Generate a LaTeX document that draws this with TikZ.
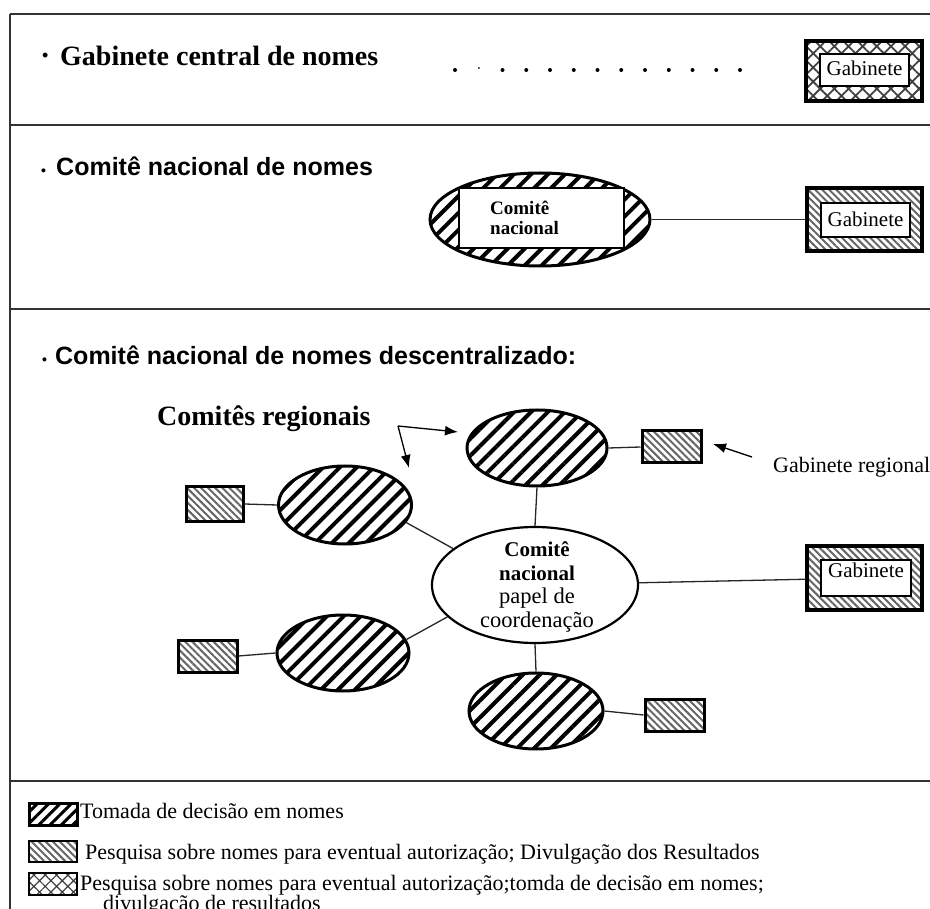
\documentclass[tikz,border=0pt]{standalone}
\usepackage{fontspec}
\setmainfont{Liberation Serif}
\newfontfamily\arialf{Liberation Sans}
\usetikzlibrary{shapes.geometric,patterns.meta,arrows.meta}
\newcommand\fsz[1]{\fontsize{#1}{#1}\selectfont}
\begin{document}
\begin{tikzpicture}[x=1pt,y=-1pt,
  frameline/.style={line width=1.4pt,draw=black!80},
  conn/.style={line width=1.3pt,draw=black!85},
  arr/.style={line width=1.3pt,draw=black,-{Latex[length=13pt,width=10pt]}},
  slantell/.style={ellipse,draw,line width=3pt,inner sep=0pt,
    pattern={Lines[angle=45,distance=12pt,line width=4pt]},pattern color=black},
  grayboxs/.style={rectangle,draw,line width=3pt,inner sep=0pt,
    pattern={Lines[angle=-45,distance=5pt,line width=2pt]},pattern color=black!60},
  crossbox/.style={rectangle,draw,line width=3.5pt,inner sep=0pt,
    pattern={Hatch[angle=45,distance=10pt,line width=1.8pt]},pattern color=black!75},
  innerbox/.style={rectangle,draw,line width=1.2pt,fill=white,inner sep=0pt},
  body/.style={font=\fsz{22},inner sep=0pt,anchor=base west},
  boxtxt/.style={font=\fsz{21},inner sep=0pt,anchor=base},
  serifhead/.style={font=\fsz{28}\bfseries,inner sep=0pt,anchor=base west},
  sanshead/.style={font=\arialf\fsz{25}\bfseries,inner sep=0pt,anchor=base west},
  dotmark/.style={fill=black}
]
\useasboundingbox (0,0) rectangle (930,909);
\fill[white] (0,0) rectangle (930,909);

% frame
\draw[frameline] (10,14) -- (930,14);
\draw[frameline] (10,14) -- (10,909);
\draw[frameline] (10,125) -- (930,125);
\draw[frameline] (10,309) -- (930,309);
\draw[frameline] (10,781) -- (930,781);

% ---------- section 1
\node[serifhead] (b1) at (42,62) {\fsz{18}\textbullet};
\node[serifhead] (h1) at (60,66) {Gabinete central de nomes};
\foreach \i in {0,...,12}{
  \ifnum\i=1
    \fill[dotmark] ({455+\i*23.75},68) circle (1.0);
  \else
    \fill[dotmark] ({455+\i*23.75},70) circle (2.0);
  \fi
}
\node[crossbox,minimum width=116,minimum height=60] (g1) at (864,71) {};
\node[innerbox,minimum width=89,minimum height=32] (g1i) at (864.5,70) {};
\node[boxtxt] (g1t) at (864.5,76) {Gabinete};

% ---------- section 2
\node[sanshead] (b2) at (41,176) {\fsz{14}\textbullet};
\node[sanshead] (h2) at (56,176) {Comitê nacional de nomes};
\node[slantell,minimum width=220,minimum height=93] (e2) at (540,219.5) {};
\node[innerbox,minimum width=165,minimum height=60] (e2i) at (541.5,218) {};
\node[font=\fsz{19}\bfseries,inner sep=0pt,anchor=base west] (e2t1) at (490,215) {Comitê};
\node[font=\fsz{19}\bfseries,inner sep=0pt,anchor=base west] (e2t2) at (490,235) {nacional};
\node[grayboxs,line width=3.5pt,minimum width=115,minimum height=63] (g2) at (864.5,219.5) {};
\node[innerbox,minimum width=89,minimum height=34] (g2i) at (865.5,220) {};
\node[boxtxt] (g2t) at (865.5,227) {Gabinete};
\draw[conn] (e2.east) -- (g2.west);

% ---------- section 3
\node[sanshead] (b3) at (42,365) {\fsz{14}\textbullet};
\node[sanshead] (h3) at (55,365) {Comitê nacional de nomes descentralizado:};
\node[serifhead] (cr) at (157,426) {Comitês regionais};

\coordinate (vtx) at (398,426);
\coordinate (tipA) at (458,432);
\coordinate (tipB) at (409,468);
\draw[arr] (vtx) -- (tipA);
\draw[arr] (vtx) -- (tipB);

\node[slantell,minimum width=140,minimum height=76] (rT) at (537,448) {};
\node[slantell,minimum width=133,minimum height=78] (rUL) at (345,505) {};
\node[slantell,minimum width=132,minimum height=76] (rLL) at (343,653) {};
\node[slantell,minimum width=134,minimum height=76] (rB) at (536,711) {};
\node[ellipse,draw,line width=2.2pt,fill=white,inner sep=0pt,minimum width=206,minimum height=116] (ctr) at (535,585) {};
\node[align=center,inner sep=0pt,font=\fontsize{22.5}{23.5}\selectfont] (ctrt) at (537,587)
  {{\fsz{21}\bfseries Comitê}\\{\fsz{21}\bfseries nacional}\\papel\hspace{6pt}de\\coordenação};

\node[grayboxs,minimum width=59,minimum height=32] (bT) at (671.5,447) {};
\node[grayboxs,minimum width=57,minimum height=34] (bUL) at (214.5,504) {};
\node[grayboxs,minimum width=59,minimum height=32] (bLL) at (207.5,656) {};
\node[grayboxs,minimum width=59,minimum height=32] (bB) at (674.5,715) {};

\node[grayboxs,line width=3.5pt,minimum width=115,minimum height=64] (g3) at (864.5,578) {};
\node[innerbox,minimum width=90,minimum height=36] (g3i) at (866,578) {};
\node[boxtxt] (g3t) at (866,577) {Gabinete};

\node[body] (gr) at (773,473) {Gabinete regional};
\coordinate (grA) at (752,457);
\coordinate (grTip) at (713,444);
\draw[arr] (grA) -- (grTip);

\draw[conn] (rT.east) -- (bT.west);
\draw[conn] (rT.south) -- (ctr.north);
\draw[conn] (ctr) -- (g3);
\draw[conn] (bUL.east) -- (rUL.west);
\draw[conn] (bLL.east) -- (rLL.west);
\draw[conn] (rUL.-16) -- (ctr.156);
\draw[conn] (rLL.12) -- (ctr.200);
\draw[conn] (rB.north) -- (ctr.south);
\draw[conn] (rB.east) -- (bB.west);

% ---------- legend
\node[rectangle,draw,line width=3pt,inner sep=0pt,minimum width=48,minimum height=22,
  pattern={Lines[angle=45,distance=8pt,line width=3pt]},pattern color=black] (lb1) at (53,814) {};
\node[grayboxs,line width=2pt,minimum width=48,minimum height=21] (lb2) at (53,851.5) {};
\node[crossbox,line width=2pt,minimum width=48,minimum height=22,
  pattern={Hatch[angle=45,distance=8pt,line width=1.2pt]}] (lb3) at (53,884) {};
\node[body] (lt1) at (80,818) {Tomada de decisão em nomes};
\node[body] (lt2) at (85,859) {Pesquisa sobre nomes para eventual autorização; Divulgação dos Resultados};
\node[body] (lt3) at (80,890) {Pesquisa sobre nomes para eventual autorização;tomda de decisão em nomes;};
\node[body] (lt4) at (103,910) {divulgação de resultados};
\end{tikzpicture}
\end{document}
